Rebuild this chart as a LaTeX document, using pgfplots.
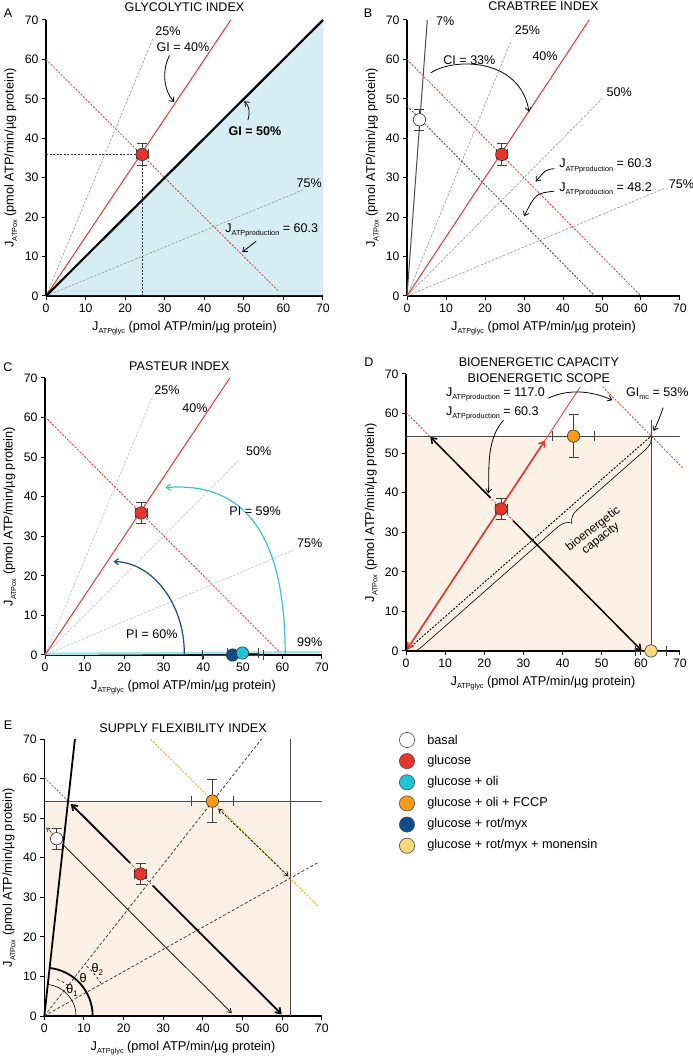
\documentclass[border=0pt]{standalone}
\usepackage{pgfplots}
\pgfplotsset{compat=1.18}
\usepackage{fontspec}
\setmainfont{Liberation Sans}
\usetikzlibrary{arrows.meta,decorations.pathreplacing}
\definecolor{myred}{RGB}{232,52,42}
\definecolor{lblue}{RGB}{214,238,243}
\definecolor{beige}{RGB}{253,241,230}
\definecolor{mycyan}{RGB}{30,196,214}
\definecolor{acyan}{RGB}{60,192,214}
\definecolor{mydblue}{RGB}{15,76,140}
\definecolor{adblue}{RGB}{25,72,140}
\definecolor{myorange}{RGB}{245,155,22}
\definecolor{myyellow}{RGB}{252,214,122}
\definecolor{lcyan}{RGB}{160,228,238}
\newcommand{\fs}[1]{\fontsize{#1}{#1}\selectfont}
\newcommand{\Js}[1]{J\raisebox{-0.5ex}{\fs{7.3}#1}}
\pgfplotsset{
  panel/.style={
    scale only axis, anchor=south west,
    xmin=0,xmax=70,ymin=0,ymax=70,
    axis lines*=left, clip=false,
    xtick={0,10,...,70}, ytick={0,10,...,70},
    tick align=outside, major tick length=4bp,
    axis line style={line width=1.3bp, black},
    every tick/.style={black, line width=1bp},
    tick label style={font=\fs{12.3}},
    /pgf/number format/assume math mode=true,
    xlabel={\Js{ATPglyc} (pmol ATP/min/µg protein)},
    ylabel={\Js{ATPox} (pmol ATP/min/µg protein)},
    every axis x label/.style={at={(axis description cs:0.5,-0.117)}, anchor=center, font=\fs{12.8}},
    every axis y label/.style={at={(axis description cs:-0.127,0.5)}, anchor=center, rotate=90, font=\fs{12.8}},
  },
  gdash/.style={gray!75, line width=0.7bp, dash pattern=on 2.5bp off 1.5bp, forget plot},
  ldash/.style={gray!45, line width=0.7bp, dash pattern=on 2.5bp off 1.5bp, forget plot},
  rdash/.style={myred, line width=0.8bp, dash pattern=on 2bp off 1.5bp, forget plot},
  rline/.style={myred, line width=1bp, forget plot},
  ebar/.style={only marks, forget plot, mark=*, mark size=0.5bp, black!75,
    error bars/.cd, x dir=both, x explicit, y dir=both, y explicit, error mark=|,
    error bar style={black!75, line width=0.7bp},
    error mark options={black!75, line width=0.7bp, mark size=5bp}},
  pt/.style={only marks, forget plot, mark=*, mark size=6.2bp, mark options={draw=black!80, line width=0.6bp, fill=#1}},
  lg/.style={only marks, forget plot, mark=*, mark size=7.6bp, mark options={draw=black!70, line width=0.6bp, fill=#1},
    every node near coord/.style={anchor=west, xshift=20bp, font=\fs{12.8}, inner sep=0pt, text=black}},
}
\tikzset{arr/.style={-{Straight Barb[length=4bp,width=6bp]}, line width=0.8bp},
  lab/.style={font=\fs{12.6}}}
\begin{document}
\begin{tikzpicture}
\useasboundingbox (0bp,0bp) rectangle (693bp,1058bp);
% panel letters
\node[lab] at (8bp,1045bp) {A};
\node[lab] at (368bp,1045bp) {B};
\node[lab] at (8bp,691bp) {C};
\node[lab] at (369bp,696bp) {D};
\node[lab] at (8bp,333bp) {E};

% ---------------- A ----------------
\begin{axis}[panel, at={(46bp,762bp)}, width=277bp, height=276bp]
\addplot[fill=lblue, draw=none, forget plot] coordinates {(0.2,0.2) (70,70) (70,0.2)} -- cycle;
\addplot[gdash] coordinates {(0,0) (27,65.2)};
\addplot[gdash] coordinates {(0,0) (65,26.9)};
\addplot[rdash] coordinates {(0,60) (58.7,1.3)};
\addplot[rline] coordinates {(0,0) (46.7,70)};
\addplot[black!80, line width=0.8bp, dash pattern=on 2bp off 1.5bp, forget plot] coordinates {(0,35.9) (24.3,35.9)};
\addplot[black!80, line width=0.8bp, dash pattern=on 2bp off 1.5bp, forget plot] coordinates {(24.3,35.9) (24.3,0)};
\addplot[black, line width=2.2bp, forget plot] coordinates {(0,0) (70,70)};
\addplot[ebar] coordinates {(24.3,35.9) +- (1.5,2.7)};
\addplot[pt=myred] coordinates {(24.3,35.9)};
\node[lab] at (axis description cs:0.5,1.047) {GLYCOLYTIC INDEX};
\node[lab] at (axis cs:30.8,67.1) {25\%};
\node[lab] at (axis cs:34.6,63.1) {GI = 40\%};
\draw[arr] (axis cs:31.2,61) .. controls (axis cs:29.2,57) and (axis cs:29.8,52) .. (axis cs:32.4,49.2);
\node[lab, font=\fs{12.6}\bfseries] at (axis cs:52.8,41.8) {GI = 50\%};
\draw[arr] (axis cs:51,44.6) .. controls (axis cs:51.6,46.5) and (axis cs:51.5,48) .. (axis cs:50.1,49.4);
\node[lab] at (axis cs:66.5,28.5) {75\%};
\node[lab, anchor=west, inner sep=0] at (axis cs:45.3,16.7) {\Js{ATPproduction} = 60.3};
\draw[arr] (axis cs:53.1,13.9) .. controls (axis cs:51.5,12.8) .. (axis cs:49.6,11.1);
\end{axis}

% ---------------- B ----------------
\begin{axis}[panel, at={(407bp,762bp)}, width=273bp, height=276bp]
\addplot[gdash] coordinates {(0,0) (26.8,65)};
\addplot[gdash] coordinates {(0,0) (50,50)};
\addplot[gdash] coordinates {(0,0) (66,27.3)};
\addplot[black!70, line width=1bp, forget plot] coordinates {(0,0) (5.2,70)};
\addplot[rdash] coordinates {(0,60) (60,0)};
\addplot[black!75, line width=0.8bp, dash pattern=on 2bp off 1.5bp, forget plot] coordinates {(0,48.2) (48.2,0)};
\addplot[rline] coordinates {(0,0) (46.7,70)};
\addplot[ebar] coordinates {(3.2,44.7) +- (0.3,2.6) (24.3,35.9) +- (1.5,2.7)};
\addplot[pt=white] coordinates {(3.2,44.7)};
\addplot[pt=myred] coordinates {(24.3,35.9)};
\node[lab] at (axis description cs:0.5,1.05) {CRABTREE INDEX};
\node[lab] at (axis cs:9.8,69.6) {7\%};
\node[lab] at (axis cs:30.9,67.3) {25\%};
\node[lab] at (axis cs:35.4,60.9) {40\%};
\node[lab] at (axis cs:54.4,51.8) {50\%};
\node[lab] at (axis cs:70.4,28.4) {75\%};
\node[lab] at (axis cs:16,59.9) {CI = 33\%};
\draw[arr] (axis cs:6.1,56.6) .. controls (axis cs:12,60.5) and (axis cs:29,60.5) .. (axis cs:31.3,46.7);
\node[lab, anchor=west, inner sep=0] at (axis cs:39,33) {\Js{ATPproduction} = 60.3};
\node[lab, anchor=west, inner sep=0] at (axis cs:39,27.1) {\Js{ATPproduction} = 48.2};
\draw[arr] (axis cs:37.8,32.3) .. controls (axis cs:35.5,32) .. (axis cs:33,29);
\draw[arr] (axis cs:37.8,26.6) .. controls (axis cs:33,26) .. (axis cs:30,20.2);
\end{axis}

% ---------------- C ----------------
\begin{axis}[panel, at={(45bp,403bp)}, width=277bp, height=277bp]
\addplot[ldash] coordinates {(0,0) (27,64.8)};
\addplot[ldash] coordinates {(0,0) (49.3,49.5)};
\addplot[ldash] coordinates {(0,0) (62.8,26.5)};
\addplot[lcyan, line width=2.5bp, forget plot] coordinates {(0,0.3) (70,0.7)};
\addplot[rdash] coordinates {(0,60.2) (59.4,0.6)};
\addplot[rline] coordinates {(0,0) (46.7,70)};
\draw[arr, adblue, line width=1.2bp] (axis cs:35.2,0.3) .. controls (axis cs:35.3,13) and (axis cs:27,23.5) .. (axis cs:17.3,23.6);
\draw[arr, acyan, line width=1.2bp] (axis cs:60.7,0.3) .. controls (axis cs:60.7,28) and (axis cs:52,44) .. (axis cs:30.4,42.3);
\addplot[ebar] coordinates {(47.4,0) +- (7.7,0) (49.9,0.5) +- (3.9,0) (24.3,35.9) +- (1.5,2.7)};
\addplot[pt=mydblue] coordinates {(47.4,0)};
\addplot[pt=mycyan] coordinates {(49.9,0.5)};
\addplot[pt=myred] coordinates {(24.3,35.9)};
\node[lab] at (axis description cs:0.485,1.041) {PASTEUR INDEX};
\node[lab] at (axis cs:30.8,66.9) {25\%};
\node[lab] at (axis cs:37.9,62.4) {40\%};
\node[lab] at (axis cs:54,51.5) {50\%};
\node[lab] at (axis cs:66.9,28.2) {75\%};
\node[lab] at (axis cs:66.9,3.2) {99\%};
\node[lab] at (axis cs:27,5.2) {PI = 60\%};
\node[lab] at (axis cs:53.1,36.3) {PI = 59\%};
\end{axis}

% ---------------- D ----------------
\begin{axis}[panel, at={(406bp,407bp)}, width=274bp, height=277bp]
\addplot[fill=beige, draw=none, forget plot] coordinates {(0.2,0.2) (0.2,54.3) (62.6,54.3) (62.6,0.2)} -- cycle;
\addplot[black!70, line width=0.9bp, forget plot] coordinates {(0,54.3) (70,54.3)};
\addplot[black!70, line width=0.9bp, forget plot] coordinates {(62.6,0) (62.6,58.4)};
\addplot[rdash] coordinates {(0,60.3) (60.3,0)};
\addplot[rdash] coordinates {(50.2,66.8) (70.8,46.2)};
\addplot[myred, line width=0.8bp, forget plot] coordinates {(0,0) (44.5,66.7)};
\addplot[black, line width=0.9bp, dash pattern=on 2bp off 1.5bp, forget plot] coordinates {(0,0) (62.6,54.3)};
\draw[{Straight Barb[length=5bp,width=7bp]}-{Straight Barb[length=5bp,width=7bp]}, myred, line width=1.6bp] (axis cs:0.3,0.45) -- (axis cs:35.5,53.2);
\draw[-{Straight Barb[length=5bp,width=7bp]}, line width=1.5bp] (axis cs:21.6,38.7) -- (axis cs:6.2,54.1);
\draw[-{Straight Barb[length=5bp,width=7bp]}, line width=1.5bp] (axis cs:27.4,32.9) -- (axis cs:60.2,0.1);
\draw[decorate, decoration={brace, amplitude=13bp, aspect=0.36}, line width=0.6bp] (axis cs:62.6,54.3) -- (axis cs:0.3,0);
\node[rotate=38, align=center, font=\fs{12}, inner sep=0] at (axis cs:48.8,29.6) {bioenergetic\\capacity};
\addplot[ebar] coordinates {(24.3,35.9) +- (1.5,2.7) (42.8,54.3) +- (5.3,5.4) (62.6,0) +- (4,0)};
\addplot[pt=myred] coordinates {(24.3,35.9)};
\addplot[pt=myorange] coordinates {(42.8,54.3)};
\addplot[pt=myyellow] coordinates {(62.6,0)};
\node[lab] at (axis description cs:0.485,1.043) {BIOENERGETIC CAPACITY};
\node[lab] at (axis description cs:0.485,0.986) {BIOENERGETIC SCOPE};
\node[lab, anchor=west, inner sep=0] at (axis cs:10.2,64.9) {\Js{ATPproduction} = 117.0};
\node[lab, anchor=west, inner sep=0] at (axis cs:10.2,60.1) {\Js{ATPproduction} = 60.3};
\node[lab, anchor=west, inner sep=0] at (axis cs:56.2,65) {GI\raisebox{-0.5ex}{\fs{7.3}mc} = 53\%};
\draw[arr] (axis cs:36.4,63.9) .. controls (axis cs:42,66.5) and (axis cs:48,65.5) .. (axis cs:52.7,63.4);
\draw[arr] (axis cs:65.7,61.5) .. controls (axis cs:64.8,59) .. (axis cs:63.3,55.6);
\draw[arr] (axis cs:24.9,58.3) .. controls (axis cs:20,53) and (axis cs:21.5,44) .. (axis cs:21,39.8);
\end{axis}

% ---------------- E ----------------
\begin{axis}[panel, at={(44.3bp,42bp)}, width=277.5bp, height=277bp]
\addplot[fill=beige, draw=none, forget plot] coordinates {(0.2,0.2) (0.2,54.3) (62.2,54.3) (62.2,0.2)} -- cycle;
\addplot[black!70, line width=0.9bp, forget plot] coordinates {(0,54.3) (70,54.3)};
\addplot[black!70, line width=0.9bp, forget plot] coordinates {(62.2,0) (62.2,70)};
\addplot[rdash] coordinates {(0,60.3) (6,54.3)};
\addplot[myorange, line width=0.8bp, dash pattern=on 2bp off 1.5bp, forget plot] coordinates {(26.8,70) (69,27.8)};
\addplot[black!75, line width=0.8bp, dash pattern=on 3bp off 2bp, forget plot] coordinates {(0,0) (54.8,70)};
\addplot[black!75, line width=0.8bp, dash pattern=on 3bp off 2bp, forget plot] coordinates {(0,0) (69.1,38.8)};
\addplot[rdash] coordinates {(21.6,38.7) (27.4,32.9)};
\addplot[black, line width=1.8bp, forget plot] coordinates {(0,0) (7.73,70)};
\draw[-{Straight Barb[length=5bp,width=7bp]}, line width=1.8bp] (axis cs:21.6,38.7) -- (axis cs:6.7,53.6);
\draw[-{Straight Barb[length=5bp,width=7bp]}, line width=1.8bp] (axis cs:27.4,32.9) -- (axis cs:59.9,0.4);
\draw[-{Straight Barb[length=4bp,width=5bp]}, line width=0.7bp] (axis cs:4.6,43.4) -- (axis cs:47.3,0.7);
\draw[-{Straight Barb[length=3bp,width=4bp]}, line width=0.6bp, densely dotted] (axis cs:2.2,46) -- (axis cs:0.5,47.6);
\draw[{Straight Barb[length=4bp,width=5bp]}-{Straight Barb[length=4bp,width=5bp]}, line width=0.7bp, dash pattern=on 2.5bp off 1.5bp] (axis cs:43.9,52.4) -- (axis cs:61.6,35.3);
\draw[line width=1.8bp] (axis cs:12.2,0) arc[start angle=0,end angle=84,radius=48.3bp];
\draw[line width=0.6bp] (axis cs:8,0) arc[start angle=0,end angle=85,radius=31.7bp];
\draw[line width=0.6bp, dash pattern=on 2.5bp off 2.5bp] (axis cs:14.29,8.25) arc[start angle=30,end angle=52,radius=65.3bp];
\draw[line width=0.6bp, dash pattern=on 2.5bp off 2.5bp] (axis cs:6.03,7.72) arc[start angle=52,end angle=72,radius=38.8bp];
\node[lab] at (axis cs:9.8,9.5) {θ};
\node[lab] at (axis cs:13.4,11.8) {θ\raisebox{-0.5ex}{\fs{8}2}};
\node[lab] at (axis cs:7,6.4) {θ\raisebox{-0.5ex}{\fs{8}1}};
\addplot[ebar] coordinates {(3.1,44.8) +- (0.8,2.6) (24.3,35.9) +- (1.5,2.7) (42.4,54.3) +- (5.3,5.4)};
\addplot[pt=white] coordinates {(3.1,44.8)};
\addplot[pt=myred] coordinates {(24.3,35.9)};
\addplot[pt=myorange] coordinates {(42.4,54.3)};
\node[lab] at (axis description cs:0.5,1.039) {SUPPLY FLEXIBILITY INDEX};
\end{axis}

% ---------------- legend ----------------
\begin{axis}[hide axis, scale only axis, anchor=south west, at={(397bp,212.3bp)},
  width=20bp, height=105.7bp, xmin=-0.5, xmax=0.5, ymin=0, ymax=5, clip=false]
\addplot[lg=white, nodes near coords={basal}] coordinates {(0,5)};
\addplot[lg=myred, nodes near coords={glucose}] coordinates {(0,4)};
\addplot[lg=mycyan, nodes near coords={glucose + oli}] coordinates {(0,3)};
\addplot[lg=myorange, nodes near coords={glucose + oli + FCCP}] coordinates {(0,2)};
\addplot[lg=mydblue, nodes near coords={glucose + rot/myx}] coordinates {(0,1)};
\addplot[lg=myyellow, nodes near coords={glucose + rot/myx + monensin}] coordinates {(0,0)};
\end{axis}
\end{tikzpicture}
\end{document}
